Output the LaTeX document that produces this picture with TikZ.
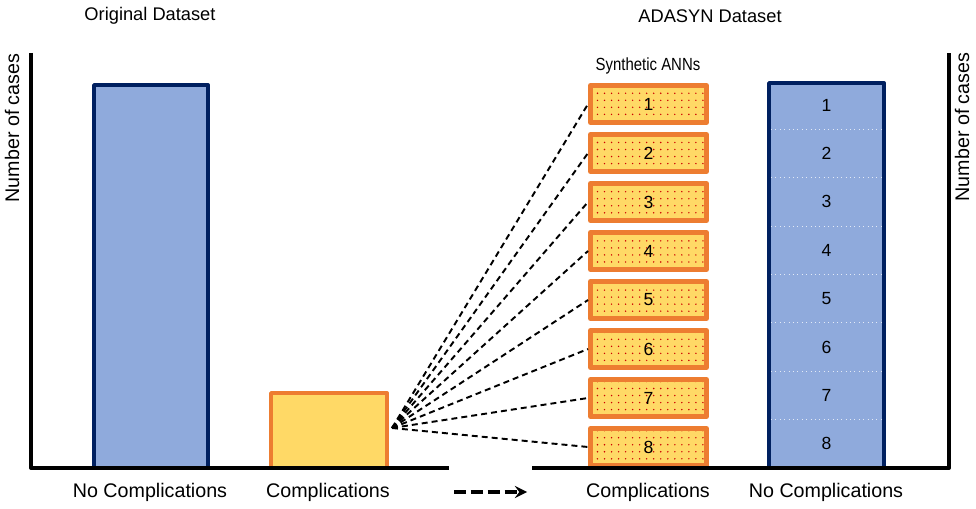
\documentclass[tikz,border=0pt]{standalone}
\usepackage{fontspec}
\usepackage{graphicx}
\setmainfont{Liberation Sans}
\usetikzlibrary{patterns.meta}
\definecolor{barblue}{RGB}{143,170,220}
\definecolor{navy}{RGB}{0,32,96}
\definecolor{compyellow}{RGB}{255,217,102}
\definecolor{comporange}{RGB}{237,125,49}
\tikzdeclarepattern{
	name=reddots,
	type=uncolored,
	bounding box={(-.5pt,-.5pt) and (.5pt,.5pt)},
	tile size={(4pt,4pt)},
	code={\fill (0,0) circle (.45pt);}
}
\begin{document}
\begin{tikzpicture}[>=stealth, font=\fontsize{11.2}{13}\selectfont, line join=round,
	axis/.style={line width=2.2pt},
	nobar/.style={fill=barblue, draw=navy, line width=2.2pt},
	compbar/.style={fill=compyellow, draw=comporange, line width=2.2pt},
	synbox/.style={preaction={fill=compyellow}, pattern=reddots, pattern color=red!80!black, draw=comporange, line width=2.8pt, minimum width=2.32cm, minimum height=0.74cm, inner sep=0pt, font=\fontsize{10}{12}\selectfont},
	fanline/.style={dashed, line width=1.1pt, dash pattern=on 3.4pt off 2.3pt},
	sepline/.style={white!75!barblue, dotted, line width=0.5pt},
	title/.style={font=\fontsize{10.4}{12}\selectfont}]
	\useasboundingbox (0,0) rectangle (19.52,10.16);
	\def\base{0.8} \def\top{9.1}
	% Original dataset
	\draw[nobar] (1.88,\base) rectangle (4.16,8.46);
	\draw[compbar] (5.42,\base) rectangle (7.74,2.30);
	\draw[axis] (0.62,\top)--(0.62,\base)--(8.98,\base);
	\node[title] (orig) at (3.0,9.84) {Original Dataset};
	\node[rotate=90] (ylabl) at (0.24,7.6) {Number of cases};
	\node (nocl) at (3.0,0.32) {No Complications};
	\node (compl) at (6.56,0.32) {Complications};
	% ADASYN dataset
	\draw[nobar] (15.38,\base) rectangle (17.68,8.50);
	\foreach \i in {1,...,7}{
		\draw[sepline] (15.42,{\base+0.9675*\i})--(17.64,{\base+0.9675*\i});
	}
	\foreach \i in {1,...,8}{
		\node[font=\fontsize{10}{12}\selectfont] (nc\i) at (16.53,{8.54-0.9675*(\i-0.5)}) {\i};
		\node[synbox] (syn\i) at (12.97,{8.08-0.98*(\i-1)}) {\i};
	}
	\draw[axis] (10.64,\base)--(18.98,\base)--(18.98,\top);
	\node[title] (ada) at (14.2,9.84) {ADASYN Dataset};
	\node (synt) at (12.96,8.84) {\fontsize{10}{12}\selectfont\scalebox{.85}[1]{Synthetic ANNs}};
	\node[rotate=90] (ylabr) at (19.24,7.62) {Number of cases};
	\node (compr) at (12.96,0.32) {Complications};
	\node (nocr) at (16.52,0.32) {No Complications};
	% fan of synthetic samples
	\coordinate (fan) at (7.84,1.6);
	\foreach \i in {1,...,8}{
		\draw[fanline] (fan)--(syn\i.west);
	}
	\coordinate (arrs) at (9.08,0.32);
	\coordinate (arre) at (10.54,0.32);
	\draw[->, line width=2pt, dash pattern=on 6.8pt off 2.8pt] (arrs)--(arre);
\end{tikzpicture}
\end{document}
